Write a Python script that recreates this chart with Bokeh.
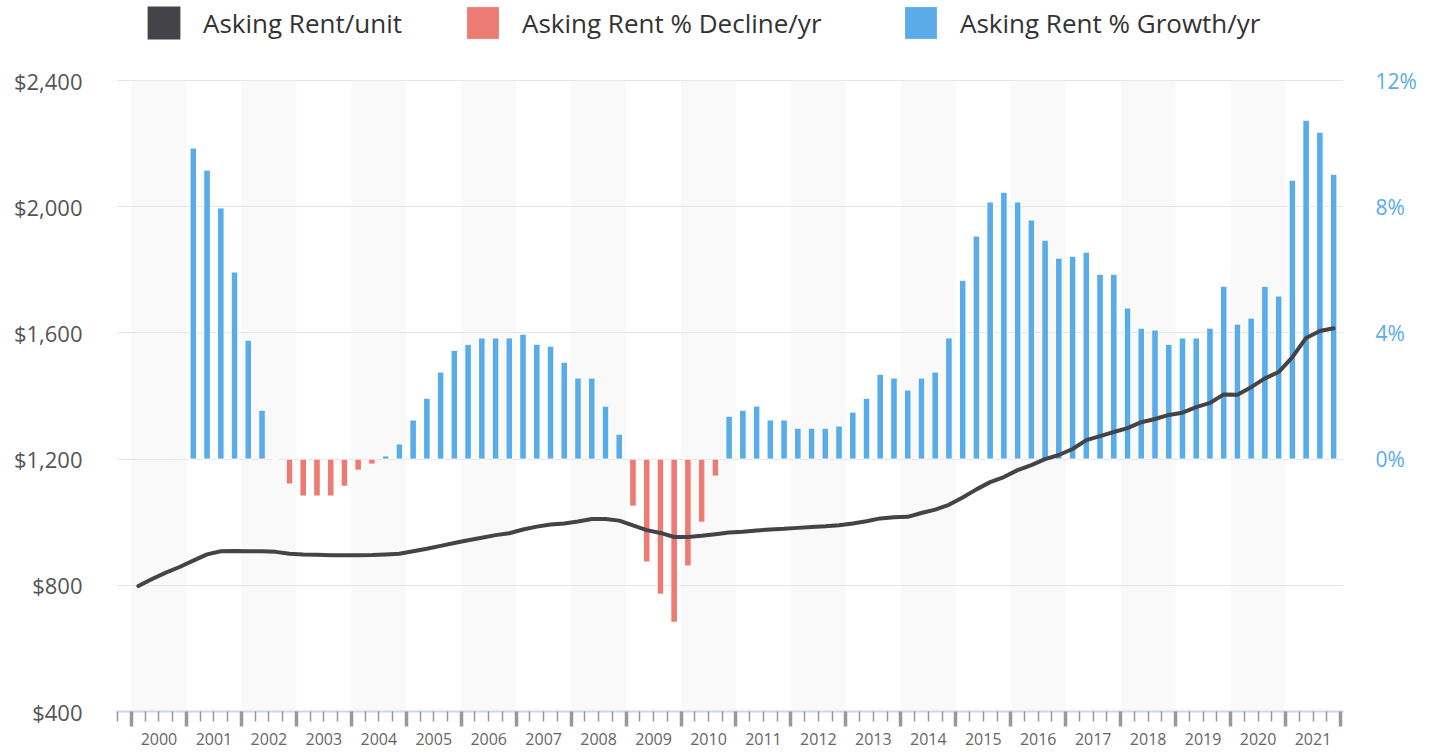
from bokeh.plotting import figure
from bokeh.models import (Range1d, LinearAxis, FixedTicker, NumeralTickFormatter,
                          PrintfTickFormatter, Legend, LegendItem, Label, Grid)
from bokeh.embed import file_html
from bokeh.resources import INLINE

FONT = "Open Sans"

# ---------------- data ----------------
years = [2000, 2001, 2002, 2003, 2004, 2005, 2006, 2007, 2008, 2009, 2010,
         2011, 2012, 2013, 2014, 2015, 2016, 2017, 2018, 2019, 2020, 2021]
year_labels = ["2000", "2001", "2002", "2003", "2004", "2005", "2006", "2007",
               "2008", "2009", "2010", "2011", "2012", "2013", "2014", "2015",
               "2016", "2017", "2018", "2019", "2020", "2021"]

# Asking rent per unit, quarterly 2000 Q1 .. 2021 Q4
rent_start_year = 2000
asking_rent = [
    798, 820, 840, 858,
    878, 898, 908, 909,
    908, 908, 906, 900,
    898, 897, 895, 895,
    895, 896, 898, 900,
    908, 916, 925, 934,
    943, 951, 959, 965,
    977, 986, 993, 996,
    1002, 1010, 1010, 1005,
    990, 975, 966, 953,
    953, 957, 962, 967,
    970, 974, 977, 979,
    982, 985, 987, 990,
    996, 1003, 1012, 1016,
    1017, 1029, 1040, 1055,
    1078, 1104, 1127, 1143,
    1165, 1181, 1200, 1213,
    1232, 1260, 1273, 1286,
    1298, 1317, 1327, 1340,
    1347, 1365, 1378, 1405,
    1404, 1428, 1456, 1476,
    1523, 1584, 1606, 1615,
]

# Asking rent % change per year, quarterly 2001 Q1 .. 2021 Q4
growth_start_year = 2001
rent_change_pct = [
    9.86, 9.16, 7.96, 5.93,
    3.77, 1.55, 0.00, -0.79,
    -1.17, -1.17, -1.17, -0.86,
    -0.35, -0.16, 0.10, 0.48,
    1.24, 1.93, 2.76, 3.45,
    3.64, 3.84, 3.84, 3.84,
    3.96, 3.64, 3.58, 3.07,
    2.57, 2.57, 1.68, 0.79,
    -1.49, -3.26, -4.28, -5.17,
    -3.39, -2.00, -0.54, 1.36,
    1.55, 1.68, 1.24, 1.24,
    0.98, 0.98, 0.98, 1.05,
    1.49, 1.93, 2.69, 2.57,
    2.19, 2.57, 2.76, 3.84,
    5.67, 7.07, 8.15, 8.46,
    8.15, 7.58, 6.94, 6.37,
    6.43, 6.56, 5.86, 5.86,
    4.79, 4.15, 4.09, 3.64,
    3.84, 3.84, 4.15, 5.48,
    4.28, 4.47, 5.48, 5.17,
    8.84, 10.74, 10.36, 9.03,
]

rent_ticks = [400, 800, 1200, 1600, 2000, 2400]
pct_pos_ticks = [0, 4, 8, 12]
pct_neg_ticks = [-4, -8]

series_names = ["Asking Rent/unit", "Asking Rent % Decline/yr", "Asking Rent % Growth/yr"]

# ---------------- colours ----------------
C_LINE = "#434348"
C_RED = "#EC7B73"
C_BLUE = "#5AACE8"
C_BAND = "#f9f9f9"
C_GRID = "#e6e6e6"

# ---------------- layout (pixels) ----------------
W, H = 1431, 753
F_LEFT, F_RIGHT = 116, 1343          # plot area, x
TOP_PAD = 80                          # space above the $2,400 line (legend lives there)
F_BOTTOM = 711                        # y of the $400 line
PLOT_H = F_BOTTOM - TOP_PAD

R_MIN, R_MAX = rent_ticks[0], rent_ticks[-1]
P_MIN, P_MAX = -8, 12
r_top = R_MAX + TOP_PAD * (R_MAX - R_MIN) / PLOT_H
p_top = P_MAX + TOP_PAD * (P_MAX - P_MIN) / PLOT_H

# ---------------- derived positions (quarter centres) ----------------
rent_x = [rent_start_year + (i + 0.5) / 4 for i in range(len(asking_rent))]
chg_x = [growth_start_year + (i + 0.5) / 4 for i in range(len(rent_change_pct))]
neg = [(x, v) for x, v in zip(chg_x, rent_change_pct) if v < 0]
pos = [(x, v) for x, v in zip(chg_x, rent_change_pct) if v >= 0]

X0, X1 = 1999.727, 2022.055
p = figure(width=W, height=H,
           x_range=Range1d(X0, X1), y_range=Range1d(R_MIN, r_top),
           output_backend="svg", toolbar_location=None,
           x_axis_location=None, y_axis_location=None,
           min_border_left=F_LEFT, min_border_right=W - F_RIGHT,
           min_border_top=0, min_border_bottom=H - F_BOTTOM)
for r in list(p.center):
    r.visible = False
p.extra_y_ranges = {"pct": Range1d(P_MIN, p_top)}
p.outline_line_color = None
p.background_fill_color = "white"
p.border_fill_color = "white"

# alternating year bands
band_years = years[0::2]
p.quad(left=band_years, right=[y + 1 for y in band_years],
       bottom=R_MIN, top=R_MAX, fill_color=C_BAND, line_color=None, level="underlay")

# horizontal grid
grid = Grid(dimension=1, ticker=FixedTicker(ticks=rent_ticks[1:]),
            grid_line_color=C_GRID, grid_line_width=1)
p.add_layout(grid)

# bars
bw = 0.12
r_neg = p.vbar(x=[a for a, b in neg], top=0, bottom=[b for a, b in neg], width=bw,
               y_range_name="pct", fill_color=C_RED, line_color="white", line_width=1)
r_pos = p.vbar(x=[a for a, b in pos], top=[b for a, b in pos], bottom=0, width=bw,
               y_range_name="pct", fill_color=C_BLUE, line_color="white", line_width=1)

# rent line
r_line = p.line(rent_x, asking_rent, line_color=C_LINE, line_width=4,
                line_join="round", line_cap="round")
# zero-height swatch renderer, used only for the square legend key of the line series
r_key = p.vbar(x=rent_x[:1], top=asking_rent[:1], bottom=asking_rent[:1], width=0,
               fill_color=C_LINE, line_color=None)

# left axis
yl = LinearAxis(ticker=FixedTicker(ticks=rent_ticks),
                formatter=NumeralTickFormatter(format="$0,0"),
                axis_line_color=None, major_tick_line_color=None,
                minor_tick_line_color=None, major_tick_out=0, major_tick_in=0,
                major_label_standoff=34,
                major_label_text_font=FONT, major_label_text_font_size="22px",
                major_label_text_color="#555555")
p.add_layout(yl, "left")

# right axis (positive)
yr = LinearAxis(y_range_name="pct", ticker=FixedTicker(ticks=pct_pos_ticks),
                formatter=PrintfTickFormatter(format="%d%%"),
                axis_line_color=None, major_tick_line_color=None,
                minor_tick_line_color=None, major_tick_out=0, major_tick_in=0,
                major_label_standoff=32,
                major_label_text_font=FONT, major_label_text_font_size="21px",
                major_label_text_color=C_BLUE)
p.add_layout(yr, "right")
for t in pct_neg_ticks:
    p.add_layout(Label(x=X1, y=t, y_range_name="pct", x_offset=32,
                       text=f"{t}%", text_align="left", text_baseline="middle",
                       text_font=FONT, text_font_size="21px", text_color=C_RED))

# x axis: axis line + thick year-boundary ticks (no labels)
year_bounds = years + [years[-1] + 1]
xa1 = LinearAxis(ticker=FixedTicker(ticks=[], minor_ticks=year_bounds),
                 axis_line_color="#ccd6eb", axis_line_width=2,
                 major_tick_out=0, major_tick_in=0, major_tick_line_color=None,
                 minor_tick_out=0, minor_tick_in=-15, minor_tick_line_width=3.5,
                 minor_tick_line_color="#999999", major_label_standoff=0)
p.add_layout(xa1, "below")
# x axis: year labels + thin quarter ticks
quarter_ticks = [y + q / 4 for y in years for q in (1, 2, 3)] + [years[0] - 0.25]
xa2 = LinearAxis(ticker=FixedTicker(ticks=[y + 0.5 for y in years], minor_ticks=quarter_ticks),
                 major_label_overrides={y + 0.5: s for y, s in zip(years, year_labels)},
                 axis_line_color=None, major_tick_line_color=None,
                 major_tick_out=0, major_tick_in=0,
                 minor_tick_out=0, minor_tick_in=-10, minor_tick_line_width=1.5,
                 minor_tick_line_color="#999999",
                 major_label_standoff=21,
                 major_label_text_font=FONT, major_label_text_font_size="16px",
                 major_label_text_color="#666666")
p.add_layout(xa2, "below")

# legends (one per series, placed above the plot area)
leg_x = [27, 346, 784]
for name, rend, lx in zip(series_names, [r_key, r_neg, r_pos], leg_x):
    leg = Legend(items=[LegendItem(label=name, renderers=[rend])],
                 location=(lx, F_BOTTOM - 43), orientation="horizontal",
                 glyph_width=41, glyph_height=41, label_standoff=19,
                 padding=0, margin=0, border_line_color=None,
                 background_fill_alpha=0,
                 label_text_font=FONT, label_text_font_size="26px",
                 label_text_color="#333333")
    p.add_layout(leg)

open("out.html", "w").write(file_html(p, INLINE))
